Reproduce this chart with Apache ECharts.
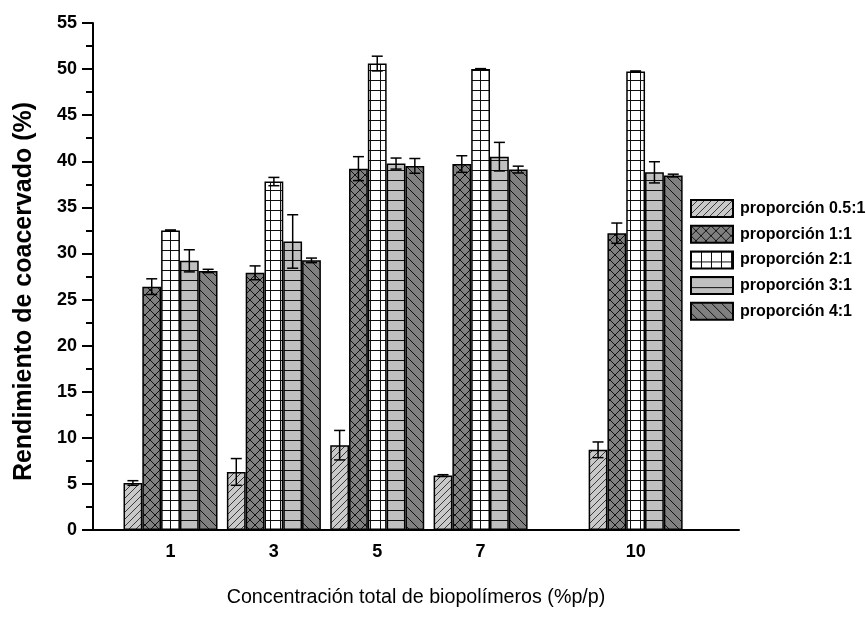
<!DOCTYPE html>
<html>
<head>
<meta charset="utf-8">
<script src="https://cdn.jsdelivr.net/npm/echarts@6/dist/echarts.min.js"></script>
<style>html,body{margin:0;padding:0;background:#fff;}#c{width:866px;height:617px;}</style>
</head>
<body>
<div id="c"></div>
<script>
// ---- data ----
const concentrations = [1, 3, 5, 7, 10];
const seriesNames = ['proporción 0.5:1', 'proporción 1:1', 'proporción 2:1', 'proporción 3:1', 'proporción 4:1'];
const p05 = [5.1, 6.3, 9.2, 5.9, 8.7];
const p1 = [26.4, 27.9, 39.2, 39.7, 32.2];
const p2 = [32.5, 37.8, 50.6, 50.0, 49.75];
const p3 = [29.2, 31.3, 39.75, 40.5, 38.8];
const p4 = [28.1, 29.25, 39.5, 39.1, 38.45];
const e05 = [0.25, 1.45, 1.6, 0.1, 0.85];
const e1 = [0.85, 0.75, 1.3, 0.9, 1.1];
const e2 = [0.05, 0.45, 0.8, 0.05, 0.05];
const e3 = [1.2, 2.9, 0.6, 1.55, 1.15];
const e4 = [0.18, 0.25, 0.8, 0.37, 0.15];
const yTicks = { min: 0, max: 55, interval: 5 };

const values = [p05, p1, p2, p3, p4];
const errors = [e05, e1, e2, e3, e4];

// ---- patterns ----
function makePattern(kind) {
  const c = document.createElement('canvas');
  let w = 10, h = 10;
  if (kind === 'slash') { w = h = 7; }
  if (kind === 'hline') { w = 4; h = 10; }
  c.width = w; c.height = h;
  const g = c.getContext('2d');
  const bg = { slash: '#c9c9c9', cross: '#808080', grid: '#ffffff', hline: '#c0c0c0', backslash: '#808080' }[kind];
  g.fillStyle = bg; g.fillRect(0, 0, w, h);
  g.strokeStyle = kind === 'slash' ? '#3a3a3a' : '#111';
  g.lineWidth = 1;
  g.beginPath();
  if (kind === 'slash' || kind === 'cross') {
    g.moveTo(-1, h + 1); g.lineTo(w + 1, -1);
    g.moveTo(-w - 1, h + 1); g.lineTo(1, -1);
    g.moveTo(w - 1, h + 1); g.lineTo(2 * w + 1, -1);
  }
  if (kind === 'backslash' || kind === 'cross') {
    g.moveTo(-1, -1); g.lineTo(w + 1, h + 1);
    g.moveTo(-w - 1, -1); g.lineTo(1, h + 1);
    g.moveTo(w - 1, -1); g.lineTo(2 * w + 1, h + 1);
  }
  if (kind === 'grid') {
    g.moveTo(0.5, 0); g.lineTo(0.5, h);
    g.moveTo(0, 0.5); g.lineTo(w, 0.5);
  }
  if (kind === 'hline') {
    g.moveTo(0, 0.5); g.lineTo(w, 0.5);
  }
  g.stroke();
  return { image: c, repeat: 'repeat' };
}
const kinds = ['slash', 'cross', 'grid', 'hline', 'backslash'];

const BW = 18.8;
const FONT = '"Liberation Sans", Arial, sans-serif';

const series = [];
seriesNames.forEach((name, i) => {
  series.push({
    name: name,
    type: 'bar',
    barWidth: BW,
    barGap: '0%',
    data: concentrations.map((x, k) => [x, values[i][k]]),
    itemStyle: { color: makePattern(kinds[i]), borderColor: '#000', borderWidth: 1.5 },
    emphasis: { disabled: true },
    z: 2
  });
});
seriesNames.forEach((name, i) => {
  series.push({
    name: 'err' + i,
    type: 'custom',
    data: concentrations.map((x, k) => [x, values[i][k], errors[i][k]]),
    z: 5,
    silent: true,
    renderItem: function (params, api) {
      const x = api.value(0), v = api.value(1), e = api.value(2);
      const off = (i - 2) * BW;
      const top = api.coord([x, v + e]);
      const bot = api.coord([x, v - e]);
      const cx = top[0] + off;
      const hw = 5.5;
      const st = { stroke: '#000', lineWidth: 1.5 };
      return {
        type: 'group',
        children: [
          { type: 'line', shape: { x1: cx, y1: top[1], x2: cx, y2: bot[1] }, style: st },
          { type: 'line', shape: { x1: cx - hw, y1: top[1], x2: cx + hw, y2: top[1] }, style: st },
          { type: 'line', shape: { x1: cx - hw, y1: bot[1], x2: cx + hw, y2: bot[1] }, style: st }
        ]
      };
    }
  });
});

const chart = echarts.init(document.getElementById('c'), null, { renderer: 'canvas' });
chart.setOption({
  animation: false,
  backgroundColor: '#fff',
  textStyle: { fontFamily: FONT },
  grid: { left: 93, right: 127, top: 23, bottom: 87, containLabel: false },
  legend: {
    data: seriesNames,
    orient: 'vertical',
    left: 690,
    top: 199,
    padding: 0,
    itemWidth: 42,
    itemHeight: 17,
    itemGap: 6.7,
    icon: 'rect',
    selectedMode: false,
    textStyle: { fontFamily: FONT, fontWeight: 'bold', fontSize: 16, color: '#000', padding: [0, 0, 0, 2] }
  },
  xAxis: {
    type: 'value',
    min: -0.5,
    max: 12,
    name: 'Concentración total de biopolímeros (%p/p)',
    nameLocation: 'middle',
    nameGap: 58,
    nameTextStyle: { fontFamily: FONT, fontSize: 19.7, color: '#000' },
    axisLine: { show: true, onZero: false, lineStyle: { color: '#000', width: 2 } },
    axisTick: { show: false },
    splitLine: { show: false },
    axisLabel: {
      customValues: concentrations,
      formatter: v => String(v),
      margin: 13,
      fontFamily: FONT, fontWeight: 'bold', fontSize: 18, color: '#000'
    }
  },
  yAxis: {
    type: 'value',
    min: yTicks.min,
    max: yTicks.max,
    interval: yTicks.interval,
    name: 'Rendimiento de coacervado (%)',
    nameLocation: 'middle',
    nameGap: 56,
    nameTextStyle: { fontFamily: FONT, fontSize: 25, fontWeight: 'bold', color: '#000', padding: [0, 30, 0, 0] },
    axisLine: { show: true, onZero: false, lineStyle: { color: '#000', width: 2 } },
    axisTick: { show: true, inside: false, length: 11, lineStyle: { color: '#000', width: 2 } },
    minorTick: { show: true, splitNumber: 2, length: 7, lineStyle: { color: '#000', width: 2 } },
    splitLine: { show: false },
    axisLabel: { margin: 16, fontFamily: FONT, fontWeight: 'bold', fontSize: 18, color: '#000' }
  },
  series: series
});
</script>
</body>
</html>
